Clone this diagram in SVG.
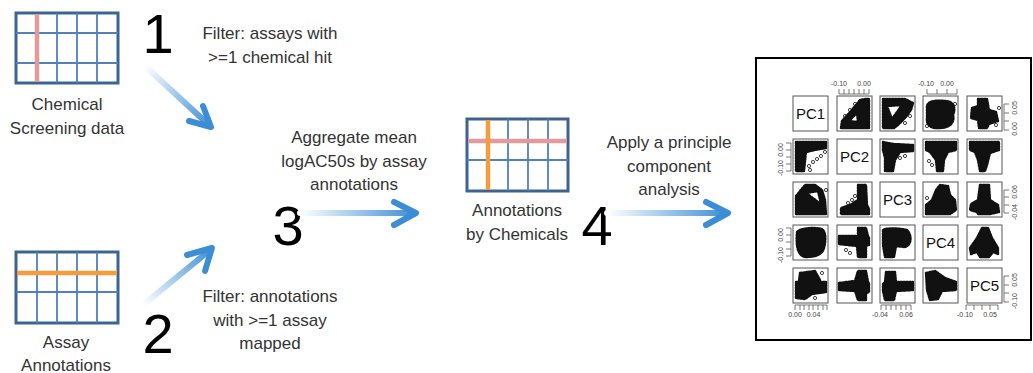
<svg xmlns="http://www.w3.org/2000/svg" width="1033" height="373" viewBox="0 0 1033 373">
<style>
.lbl{font-family:"Liberation Sans",Arial,sans-serif;font-size:17px;fill:#333;text-anchor:middle}
.num{font-family:"Liberation Sans",Arial,sans-serif;font-size:56px;fill:#000;text-anchor:middle}
.frame{fill:#fff;stroke:#3d6491;stroke-width:3}
.in{stroke:#4f81bd;stroke-width:1.8;fill:none}
.pink{stroke:#e39a9b;stroke-width:4.5}
.orange{stroke:#f59d3d;stroke-width:4.5}
.arr{fill:none;stroke-width:6;stroke-linecap:round;stroke-linejoin:round}
.head{fill:none;stroke:#3b8dd6;stroke-width:6;stroke-linecap:round;stroke-linejoin:round}
.pan{fill:#fff;stroke:#555;stroke-width:1}
.pc{font-family:"Liberation Sans",Arial,sans-serif;font-size:15px;fill:#111;text-anchor:middle}
.ax{font-family:"Liberation Sans",Arial,sans-serif;font-size:7px;fill:#444;text-anchor:middle}
.tk{stroke:#555;stroke-width:0.8;fill:none}
.blob{fill:#111;stroke:#111;stroke-width:2.4;stroke-linejoin:round;stroke-linecap:round;stroke-dasharray:1.6 1.4;fill-rule:evenodd}
.pt{fill:none;stroke:#111;stroke-width:0.8}
</style>
<defs>
<linearGradient id="g1" gradientUnits="userSpaceOnUse" x1="145" y1="66" x2="211" y2="127"><stop offset="0" stop-color="#fff"/><stop offset="1" stop-color="#3b8dd6"/></linearGradient>
<linearGradient id="g2" gradientUnits="userSpaceOnUse" x1="143" y1="305" x2="212" y2="248"><stop offset="0" stop-color="#fff"/><stop offset="1" stop-color="#3b8dd6"/></linearGradient>
<linearGradient id="g3" gradientUnits="userSpaceOnUse" x1="300" y1="0" x2="416" y2="0"><stop offset="0" stop-color="#fff"/><stop offset="1" stop-color="#3b8dd6"/></linearGradient>
<linearGradient id="g4" gradientUnits="userSpaceOnUse" x1="607" y1="0" x2="728" y2="0"><stop offset="0" stop-color="#fff"/><stop offset="1" stop-color="#3b8dd6"/></linearGradient>
</defs>

<g id="chemical-screening">
<rect class="frame" x="16" y="13" width="102" height="70"/>
<path class="in" d="M57,13V83M77,13V83M97,13V83M16,33H118M16,63H118"/>
<line class="pink" x1="37" y1="14" x2="37" y2="82"/>
<text class="lbl" x="67" y="110">Chemical</text>
<text class="lbl" x="67" y="134">Screening data</text>
</g>

<g id="assay-annotations">
<rect class="frame" x="16" y="252" width="102" height="71"/>
<path class="in" d="M37,252V323M57,252V323M77,252V323M97,252V323M16,292H118"/>
<line class="orange" x1="17" y1="273" x2="117" y2="273"/>
<text class="lbl" x="66" y="348">Assay</text>
<text class="lbl" x="66" y="371">Annotations</text>
</g>

<g id="annotations-by-chemicals">
<rect class="frame" x="467" y="119" width="101" height="72"/>
<path class="in" d="M508,119V191M528,119V191M548,119V191M467,160H568"/>
<line class="pink" x1="468" y1="141" x2="567" y2="141"/>
<line class="orange" x1="488" y1="120" x2="488" y2="190"/>
<text class="lbl" x="517" y="216">Annotations</text>
<text class="lbl" x="517" y="240">by Chemicals</text>
</g>

<g id="step-labels">
<text class="num" x="158" y="53">1</text>
<text class="num" x="158" y="353">2</text>
<text class="num" x="288" y="245">3</text>
<text class="num" x="597" y="245">4</text>
<text class="lbl" x="270" y="39">Filter: assays with</text>
<text class="lbl" x="270" y="63">&gt;=1 chemical hit</text>
<text class="lbl" x="270" y="302">Filter: annotations</text>
<text class="lbl" x="270" y="326">with &gt;=1 assay</text>
<text class="lbl" x="270" y="349">mapped</text>
<text class="lbl" x="354" y="143">Aggregate mean</text>
<text class="lbl" x="354" y="167">logAC50s by assay</text>
<text class="lbl" x="354" y="190">annotations</text>
<text class="lbl" x="669" y="148">Apply a principle</text>
<text class="lbl" x="669" y="172">component</text>
<text class="lbl" x="669" y="195">analysis</text>
</g>

<g id="connectors">
<line class="arr" stroke="url(#g1)" x1="145" y1="66" x2="209" y2="125"/>
<polyline class="head" points="203,106 211,127 189,121"/>
<line class="arr" stroke="url(#g2)" x1="143" y1="305" x2="210" y2="250"/>
<polyline class="head" points="187,255 212,248 205,271"/>
<line class="arr" stroke="url(#g3)" x1="300" y1="213" x2="414" y2="213"/>
<polyline class="head" points="394,202 416,213 394,225"/>
<line class="arr" stroke="url(#g4)" x1="607" y1="213" x2="726" y2="213"/>
<polyline class="head" points="706,202 728,213 706,225"/>
</g>

<g id="pca-plot">
<rect x="756" y="58" width="275" height="282" fill="#fff" stroke="#000" stroke-width="2"/>
<g id="panels">
<rect class="pan" x="793" y="96" width="35" height="35"/><rect class="pan" x="837" y="96" width="35" height="35"/><rect class="pan" x="880" y="96" width="35" height="35"/><rect class="pan" x="923" y="96" width="35" height="35"/><rect class="pan" x="967" y="96" width="35" height="35"/>
<rect class="pan" x="793" y="139" width="35" height="35"/><rect class="pan" x="837" y="139" width="35" height="35"/><rect class="pan" x="880" y="139" width="35" height="35"/><rect class="pan" x="923" y="139" width="35" height="35"/><rect class="pan" x="967" y="139" width="35" height="35"/>
<rect class="pan" x="793" y="182" width="35" height="35"/><rect class="pan" x="837" y="182" width="35" height="35"/><rect class="pan" x="880" y="182" width="35" height="35"/><rect class="pan" x="923" y="182" width="35" height="35"/><rect class="pan" x="967" y="182" width="35" height="35"/>
<rect class="pan" x="793" y="225" width="35" height="35"/><rect class="pan" x="837" y="225" width="35" height="35"/><rect class="pan" x="880" y="225" width="35" height="35"/><rect class="pan" x="923" y="225" width="35" height="35"/><rect class="pan" x="967" y="225" width="35" height="35"/>
<rect class="pan" x="793" y="268" width="35" height="35"/><rect class="pan" x="837" y="268" width="35" height="35"/><rect class="pan" x="880" y="268" width="35" height="35"/><rect class="pan" x="923" y="268" width="35" height="35"/><rect class="pan" x="967" y="268" width="35" height="35"/>
</g>
<text class="pc" x="810.5" y="119">PC1</text>
<text class="pc" x="854.5" y="162">PC2</text>
<text class="pc" x="897.5" y="205">PC3</text>
<text class="pc" x="940.5" y="248">PC4</text>
<text class="pc" x="984.5" y="291">PC5</text>

<g id="scatter">
<path class="blob" d="M841,128 L842,121 L851,111 L860,100 L866,99 L869,99 L869,128 Z M849,121 L857,113 L858,122 Z"/>
<circle class="pt" cx="845" cy="116" r="1.6"/><circle class="pt" cx="850" cy="110" r="1.6"/><circle class="pt" cx="855" cy="104" r="1.6"/><circle class="pt" cx="853" cy="125" r="1.6"/>
<path class="blob" d="M883,99 L905,99 L913,103 L911,110 L905,118 L898,125 L894,128 L883,128 Z M887,106 L902,105 L892,119 Z"/>
<circle class="pt" cx="910" cy="116" r="1.6"/><circle class="pt" cx="905" cy="123" r="1.6"/>
<path class="blob" d="M927,108 C926,101 935,100 945,101 C954,101 956,108 953,115 C955,122 950,128 940,128 C931,129 926,125 927,118 Z"/>
<circle class="pt" cx="955" cy="104" r="1.6"/><circle class="pt" cx="927" cy="126" r="1.6"/>
<path class="blob" d="M978,99 L987,99 L989,110 L996,112 L998,121 L989,124 L987,128 L979,128 L978,120 L971,118 L972,108 L978,106 Z"/>
<circle class="pt" cx="999" cy="108" r="1.6"/><circle class="pt" cx="996" cy="125" r="1.6"/>

<path class="blob" d="M796,142 L826,142 L826,148 L815,150 L806,152 L804,171 L796,171 Z"/>
<circle class="pt" cx="809" cy="166" r="1.6"/><circle class="pt" cx="813" cy="162" r="1.6"/><circle class="pt" cx="817" cy="159" r="1.6"/><circle class="pt" cx="821" cy="156" r="1.6"/><circle class="pt" cx="825" cy="152" r="1.6"/><circle class="pt" cx="810" cy="170" r="1.6"/>
<path class="blob" d="M883,142 L893,144 L913,145 L913,151 L900,152 L895,160 L893,171 L885,171 L885,158 L883,150 Z"/>
<circle class="pt" cx="900" cy="158" r="1.6"/><circle class="pt" cx="905" cy="156" r="1.6"/>
<path class="blob" d="M926,142 L956,142 L956,150 L948,152 L944,160 L943,171 L937,171 L936,160 L930,152 L926,150 Z"/>
<circle class="pt" cx="929" cy="161" r="1.6"/><circle class="pt" cx="932" cy="165" r="1.6"/>
<path class="blob" d="M970,142 L999,142 L999,150 L990,153 L987,165 L985,171 L980,171 L978,160 L975,152 L970,150 Z"/>

<path class="blob" d="M796,196 L805,185 L815,185 L822,190 L825,200 L826,214 L796,214 Z M806,193 L818,191 L821,204 Z"/>
<circle class="pt" cx="826" cy="190" r="1.6"/>
<path class="blob" d="M858,185 L866,185 L867,205 L869,209 L869,214 L841,214 L841,208 L850,205 L858,200 Z"/>
<circle class="pt" cx="852" cy="200" r="1.6"/><circle class="pt" cx="848" cy="203" r="1.6"/><circle class="pt" cx="855" cy="196" r="1.6"/>
<path class="blob" d="M926,205 L932,200 L936,190 L940,185 L948,186 L950,195 L955,200 L956,210 L950,214 L926,214 Z"/>
<circle class="pt" cx="927" cy="198" r="1.6"/>
<path class="blob" d="M980,185 L989,185 L990,200 L998,205 L999,212 L990,214 L988,214 L978,214 L977,212 L970,210 L971,204 L978,200 Z"/>

<path class="blob" d="M797,232 C800,228 815,227 822,229 C826,232 826,240 824,248 C822,255 815,257 805,257 C797,255 796,245 797,232 Z"/>
<circle class="pt" cx="812" cy="254" r="1.6"/>
<path class="blob" d="M839,236 L858,236 L858,228 L866,228 L868,236 L869,238 L869,245 L866,246 L866,257 L858,257 L857,246 L839,244 Z"/>
<circle class="pt" cx="846" cy="250" r="1.6"/><circle class="pt" cx="850" cy="253" r="1.6"/>
<path class="blob" d="M883,230 C885,228 900,228 907,230 C912,235 912,245 905,247 L896,246 L894,257 L885,257 L883,245 Z"/>
<path class="blob" d="M982,228 L988,228 L992,238 L998,248 L998,254 L993,252 L989,257 L980,257 L977,252 L971,254 L970,248 L977,238 Z"/>

<path class="blob" d="M796,282 L826,282 L826,292 L812,294 L805,299 L796,298 Z M800,273 L815,271 L820,280 L799,281 Z"/>
<circle class="pt" cx="822" cy="273" r="1.6"/><circle class="pt" cx="815" cy="298" r="1.6"/>
<path class="blob" d="M839,283 L855,281 L858,271 L866,271 L868,282 L869,283 L869,292 L866,293 L866,300 L858,300 L855,291 L839,290 Z"/>
<path class="blob" d="M883,284 L885,282 L886,272 L895,272 L896,282 L913,282 L913,290 L896,291 L894,300 L885,300 L883,291 Z"/>
<path class="blob" d="M926,273 L935,271 L945,278 L956,282 L956,290 L942,291 L938,299 L930,300 L927,290 Z"/>
</g>

<g id="axes">
<path class="tk" d="M839,94H869M839,94V89M844,94V89M849,94V89M854,94V89M859,94V89M864,94V89M869,94V89"/>
<text class="ax" x="839" y="86">-0.10</text><text class="ax" x="864" y="86">0.00</text>
<path class="tk" d="M927,94H957M927,94V89M937,94V89M947,94V89M957,94V89"/>
<text class="ax" x="926" y="86">-0.10</text><text class="ax" x="947" y="86">0.00</text>
<path class="tk" d="M1004,104V130M1004,104H1009M1004,113H1009M1004,121H1009M1004,130H1009"/>
<text class="ax" transform="rotate(-90 1017 108)" x="1017" y="108">0.05</text>
<text class="ax" transform="rotate(-90 1017 129)" x="1017" y="129">0.00</text>
<path class="tk" d="M1004,190V213M1004,190H1009M1004,197H1009M1004,205H1009M1004,213H1009"/>
<text class="ax" transform="rotate(-90 1017 192)" x="1017" y="192">0.06</text>
<text class="ax" transform="rotate(-90 1017 212)" x="1017" y="212">-0.04</text>
<path class="tk" d="M1004,276V302M1004,276H1009M1004,285H1009M1004,293H1009M1004,302H1009"/>
<text class="ax" transform="rotate(-90 1017 280)" x="1017" y="280">0.05</text>
<text class="ax" transform="rotate(-90 1017 301)" x="1017" y="301">-0.10</text>
<path class="tk" d="M791,143V171M791,143H786M791,150H786M791,157H786M791,164H786M791,171H786"/>
<text class="ax" transform="rotate(-90 783 150)" x="783" y="150">0.00</text>
<text class="ax" transform="rotate(-90 783 168)" x="783" y="168">-0.10</text>
<path class="tk" d="M791,228V256M791,228H786M791,235H786M791,242H786M791,249H786M791,256H786"/>
<text class="ax" transform="rotate(-90 783 235)" x="783" y="235">0.00</text>
<text class="ax" transform="rotate(-90 783 255)" x="783" y="255">-0.10</text>
<path class="tk" d="M795,305H827M795,305V310M800,305V310M804,305V310M809,305V310M813,305V310M818,305V310M823,305V310M827,305V310"/>
<text class="ax" x="795" y="317">0.00</text><text class="ax" x="813.5" y="317">0.04</text>
<path class="tk" d="M881,305H911M881,305V310M886,305V310M891,305V310M896,305V310M901,305V310M906,305V310M911,305V310"/>
<text class="ax" x="880" y="317">-0.04</text><text class="ax" x="906" y="317">0.06</text>
<path class="tk" d="M966,305H998M966,305V310M974,305V310M982,305V310M990,305V310M998,305V310"/>
<text class="ax" x="965" y="317">-0.10</text><text class="ax" x="990" y="317">0.05</text>
</g>
</g>
</svg>
